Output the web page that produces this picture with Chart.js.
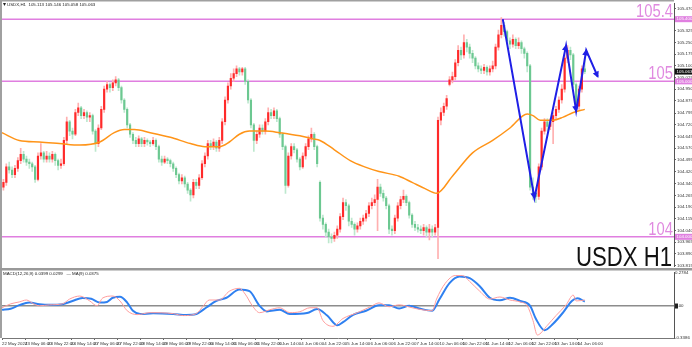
<!DOCTYPE html>
<html>
<head>
<meta charset="utf-8">
<script src="https://cdn.jsdelivr.net/npm/chart.js@4.4.1/dist/chart.umd.min.js"></script>
<style>
  html, body { margin: 0; padding: 0; background: #fff; overflow: hidden; }
  #wrap { position: relative; width: 692px; height: 347px; }
  canvas { position: absolute; left: 0; }
  #main { top: 0; }
  #macd { top: 269px; }
</style>
</head>
<body>
<div id="wrap">
  <canvas id="main" width="692" height="270"></canvas>
  <canvas id="macd" width="692" height="78"></canvas>
</div>
<script>
// * USDX H1 candles, one entry per 2 hours
const opens = [
  104.32,104.35,104.45,104.43,104.40,104.44,104.49,104.53,104.50,104.48,
  104.47,104.45,104.37,104.52,104.54,104.50,104.52,104.50,104.53,104.49,
  104.46,104.47,104.62,104.74,104.68,104.66,104.80,104.83,104.78,104.80,
  104.77,104.78,104.68,104.60,104.70,104.82,104.95,104.98,104.96,104.99,
  105.01,104.96,104.88,104.82,104.72,104.66,104.62,104.60,104.63,104.60,
  104.62,104.61,104.60,104.62,104.58,104.50,104.48,104.50,104.49,104.47,
  104.44,104.40,104.36,104.38,104.34,104.30,104.27,104.35,104.33,104.38,
  104.47,104.52,104.60,104.58,104.61,104.57,104.62,104.74,104.88,104.97,
  105.02,105.05,105.08,105.06,105.08,105.00,104.88,104.72,104.62,104.66,
  104.70,104.68,104.74,104.80,104.78,104.81,104.76,104.66,104.58,104.33,
  104.52,104.58,104.56,104.50,104.45,104.52,104.58,104.63,104.66,104.58,
  104.35,104.12,104.08,104.03,104.00,103.99,104.01,104.05,104.13,104.22,
  104.20,104.10,104.08,104.05,104.07,104.10,104.12,104.15,104.20,104.22,
  104.24,104.32,104.28,104.25,104.20,104.05,104.04,104.12,104.20,104.24,
  104.26,104.22,104.14,104.08,104.06,104.05,104.04,104.06,104.03,104.05,
  104.03,104.06,104.75,104.80,104.84,104.98,105.01,105.03,105.12,105.20,
  105.17,105.25,105.22,105.18,105.15,105.10,105.08,105.07,105.09,105.06,
  105.08,105.10,105.22,105.30,105.36,105.32,105.26,105.24,105.27,105.23,
  105.25,105.21,105.18,105.10,104.32,104.28,104.26,104.45,104.68,104.74,
  104.71,104.74,104.78,104.82,104.88,104.95,105.15,105.20,105.17,104.98,
  104.84,104.95,105.08
];
const highs = [
  104.37,104.47,104.48,104.45,104.46,104.51,104.57,104.55,104.52,104.50,
  104.48,104.46,104.54,104.60,104.55,104.55,104.54,104.55,104.54,104.50,
  104.50,104.64,104.77,104.75,104.70,104.82,104.86,104.84,104.82,104.81,
  104.80,104.79,104.69,104.72,104.84,104.97,105.00,104.99,105.01,105.03,
  105.02,104.97,104.89,104.83,104.73,104.67,104.64,104.65,104.64,104.64,
  104.63,104.62,104.64,104.63,104.59,104.52,104.52,104.51,104.50,104.48,
  104.45,104.41,104.40,104.39,104.35,104.31,104.37,104.37,104.40,104.49,
  104.54,104.62,104.62,104.63,104.62,104.64,104.76,104.90,104.99,105.05,
  105.08,105.10,105.09,105.09,105.09,105.01,104.89,104.73,104.68,104.72,
  104.72,104.76,104.83,104.82,104.83,104.82,104.77,104.67,104.59,104.54,
  104.60,104.60,104.57,104.51,104.54,104.60,104.65,104.70,104.67,104.59,
  104.36,104.14,104.09,104.05,104.02,104.03,104.07,104.15,104.25,104.24,
  104.21,104.12,104.09,104.09,104.12,104.14,104.17,104.22,104.25,104.27,
  104.37,104.34,104.30,104.26,104.21,104.07,104.14,104.22,104.26,104.30,
  104.27,104.23,104.15,104.10,104.08,104.07,104.08,104.07,104.08,104.07,
  104.08,104.77,104.83,104.86,104.91,105.03,105.06,105.14,105.23,105.22,
  105.30,105.27,105.24,105.20,105.16,105.12,105.10,105.11,105.10,105.10,
  105.13,105.24,105.33,105.41,105.38,105.33,105.28,105.30,105.28,105.28,
  105.26,105.22,105.19,105.11,104.38,104.30,104.47,104.70,104.76,104.76,
  104.76,104.80,104.84,104.90,104.98,105.17,105.23,105.22,105.18,104.99,
  104.97,105.10,105.15
];
const lows = [
  104.30,104.33,104.41,104.38,104.38,104.42,104.47,104.48,104.46,104.44,
  104.42,104.35,104.36,104.50,104.48,104.48,104.48,104.48,104.46,104.43,
  104.44,104.46,104.60,104.65,104.63,104.65,104.78,104.76,104.76,104.74,
  104.74,104.66,104.55,104.58,104.69,104.80,104.93,104.93,104.94,104.97,
  104.94,104.86,104.80,104.70,104.64,104.60,104.58,104.58,104.58,104.58,
  104.59,104.58,104.59,104.56,104.48,104.46,104.47,104.47,104.45,104.42,
  104.38,104.34,104.34,104.32,104.28,104.23,104.25,104.31,104.31,104.37,
  104.45,104.50,104.56,104.56,104.55,104.55,104.60,104.72,104.86,104.95,
  105.00,105.03,105.04,105.04,104.98,104.86,104.70,104.55,104.60,104.64,
  104.66,104.66,104.72,104.76,104.76,104.74,104.64,104.56,104.28,104.32,
  104.50,104.54,104.48,104.43,104.44,104.50,104.56,104.61,104.56,104.45,
  104.10,104.05,104.00,103.96,103.96,103.97,103.99,104.03,104.11,104.17,
  104.07,104.06,104.01,104.03,104.05,104.08,104.10,104.13,104.18,104.20,
  104.04,104.26,104.23,104.18,104.02,104.01,104.02,104.10,104.18,104.22,
  104.20,104.12,104.06,104.04,104.03,104.02,104.01,104.00,103.98,104.00,
  104.01,103.86,104.72,104.78,104.82,104.97,104.99,105.01,105.10,105.14,
  105.15,105.19,105.15,105.12,105.08,105.06,105.05,105.05,105.04,105.04,
  105.06,105.08,105.20,105.28,105.29,105.24,105.21,105.22,105.21,105.21,
  105.18,105.15,105.06,104.30,104.24,104.22,104.24,104.43,104.66,104.68,
  104.69,104.60,104.76,104.80,104.86,104.93,105.12,105.14,104.96,104.81,
  104.82,104.93,105.05
];
const closes = [
  104.35,104.45,104.43,104.40,104.44,104.49,104.53,104.50,104.48,104.47,
  104.45,104.37,104.52,104.54,104.50,104.52,104.50,104.53,104.49,104.46,
  104.47,104.62,104.74,104.68,104.66,104.80,104.83,104.78,104.80,104.77,
  104.78,104.68,104.60,104.70,104.82,104.95,104.98,104.96,104.99,105.01,
  104.96,104.88,104.82,104.72,104.66,104.62,104.60,104.63,104.60,104.62,
  104.61,104.60,104.62,104.58,104.50,104.48,104.50,104.49,104.47,104.44,
  104.40,104.36,104.38,104.34,104.30,104.27,104.35,104.33,104.38,104.47,
  104.52,104.60,104.58,104.61,104.57,104.62,104.74,104.88,104.97,105.02,
  105.05,105.08,105.06,105.08,105.00,104.88,104.72,104.62,104.66,104.70,
  104.68,104.74,104.80,104.78,104.81,104.76,104.66,104.58,104.33,104.52,
  104.58,104.56,104.50,104.45,104.52,104.58,104.63,104.66,104.58,104.47,
  104.12,104.08,104.03,104.00,103.99,104.01,104.05,104.13,104.22,104.20,
  104.10,104.08,104.05,104.07,104.10,104.12,104.15,104.20,104.22,104.24,
  104.32,104.28,104.25,104.20,104.05,104.04,104.12,104.20,104.24,104.26,
  104.22,104.14,104.08,104.06,104.05,104.04,104.06,104.03,104.05,104.03,
  104.06,104.75,104.80,104.84,104.89,105.01,105.03,105.12,105.20,105.17,
  105.25,105.22,105.18,105.15,105.10,105.08,105.07,105.09,105.06,105.08,
  105.10,105.22,105.30,105.36,105.32,105.26,105.24,105.27,105.23,105.25,
  105.21,105.18,105.10,104.32,104.28,104.26,104.45,104.68,104.74,104.71,
  104.74,104.78,104.82,104.88,104.95,105.15,105.20,105.17,104.98,104.84,
  104.95,105.08,105.063
];

// * Moving average (orange), hours from the left edge
const maHours = [0,12,26,40,54,68,78,85,92,103,117,131,141,151,158,165,172,183,193,207,216,221,231,242,252,262,276,285,294,302,313,327,341,353,365,369,374,383,390,397,405];
const maValues = [104.67,104.62,104.61,104.60,104.59,104.61,104.67,104.69,104.69,104.67,104.64,104.60,104.58,104.58,104.61,104.66,104.68,104.68,104.67,104.65,104.63,104.62,104.56,104.49,104.45,104.42,104.39,104.35,104.31,104.28,104.39,104.54,104.62,104.70,104.79,104.78,104.75,104.75,104.77,104.80,104.82];

// * Hand drawn blue zigzag
const zzHours = [348,370,392,399,406,414];
const zzPrices = [105.40,104.25,105.23,104.81,105.20,105.03];

// * Horizontal levels
const levels = [105.4, 105, 104];
const levelLabels = ["105.4", "105", "104"];

// * Price scale labels
const yTicks = [105.470,105.395,105.325,105.250,105.175,105.100,105.025,104.950,104.875,104.795,104.720,104.645,104.570,104.495,104.420,104.340,104.265,104.190,104.115,104.040,103.965,103.890,103.815];
const infoValues = ["105.113","105.146","105.058","105.063"];

// * MACD panel
const macdHours = [0,6,12,19,26,33,42,49,56,62,68,73,77,82,87,91,96,105,119,128,135,142,149,156,165,172,179,184,193,200,212,219,226,233,237,244,253,262,269,276,283,290,299,304,311,318,325,332,339,346,353,360,367,371,377,383,390,396,400,405];
const macdValues = [-0.035,-0.025,0.008,0.032,0.017,0.011,0.017,0.047,0.075,0.068,0.032,0.038,0.077,0.086,0.032,-0.044,-0.074,-0.068,-0.074,-0.083,-0.074,-0.014,0.047,0.077,0.154,0.138,0.002,-0.050,-0.035,-0.074,-0.065,-0.028,-0.089,-0.180,-0.150,-0.083,-0.044,0.008,0.008,-0.023,0.002,-0.023,-0.044,0.063,0.214,0.275,0.259,0.184,0.077,0.054,0.077,0.047,0.002,-0.119,-0.225,-0.165,-0.059,0.047,0.072,0.041];
const sigHours = [0,6,12,17,22,26,33,42,47,54,61,66,70,77,82,87,94,103,119,126,135,140,144,151,158,165,169,174,179,186,193,200,207,214,219,223,230,237,247,256,262,269,276,285,292,299,302,308,315,320,325,332,339,346,353,360,365,369,372,379,385,392,397,399,405];
const sigValues = [-0.016,0.020,0.038,0.056,0.020,0.002,0.011,0.020,0.065,0.093,0.047,0.002,0.075,0.093,0.047,-0.044,-0.080,-0.062,-0.071,-0.089,-0.071,0.002,0.056,0.056,0.138,0.165,0.111,0.002,-0.062,-0.035,-0.016,-0.062,-0.053,-0.016,-0.016,-0.135,-0.189,-0.116,-0.062,-0.007,0.029,-0.007,0.011,-0.016,-0.035,-0.044,0.065,0.211,0.284,0.284,0.229,0.138,0.065,0.084,0.056,0.038,0.002,-0.135,-0.270,-0.180,-0.089,0.011,0.102,0.047,0.056];
const macdTickLabels = ["0.2784", "0.00", "-0.3386"];

// * Time axis labels, one every 16 hours
const xLabels = ["22 May 2024","23 May 06:00","23 May 22:00","24 May 14:00","27 May 06:00","27 May 22:00","28 May 14:00","29 May 06:00","29 May 22:00","30 May 14:00","31 May 06:00","31 May 22:00","3 Jun 14:00","4 Jun 06:00","4 Jun 22:00","5 Jun 14:00","6 Jun 06:00","6 Jun 22:00","7 Jun 14:00","10 Jun 06:00","10 Jun 22:00","11 Jun 14:00","12 Jun 06:00","12 Jun 22:00","13 Jun 14:00","14 Jun 06:00"];

const xMax = 467;
const candleHours = closes.map((c, i) => 2 * i + 1);
const isUp = (i) => closes[i] >= opens[i];

const TINY = 4.4;
const SMALL = TINY + 'px "Liberation Sans", Arial, sans-serif';
const LEVEL_COLOR = "#e07fe0";

function squeezedText(ctx, text, x, y, size, color) {
    ctx.save();
    ctx.font = size + 'px "Liberation Sans", Arial, sans-serif';
    ctx.fillStyle = color;
    ctx.textAlign = "right";
    ctx.textBaseline = "alphabetic";
    ctx.translate(x, y);
    ctx.scale(0.82, 1);
    ctx.fillText(text, 0, 0);
    ctx.restore();
}

function priceBox(ctx, text, left, yPix, bg) {
    ctx.fillStyle = bg;
    ctx.fillRect(left + 1, yPix - 3, 17, 6);
    ctx.fillStyle = "#fff";
    ctx.font = SMALL;
    ctx.textAlign = "left";
    ctx.textBaseline = "middle";
    ctx.fillText(text, left + 2.5, yPix);
}

const mainOverlay = {
    id: "mainOverlay",
    afterDatasetsDraw(chart) {
        const { ctx, scales: { x, y } } = chart;
        // * Arrow heads on the zigzag
        const pts = zzHours.map((h, i) => [x.getPixelForValue(h), y.getPixelForValue(zzPrices[i])]);
        ctx.save();
        ctx.fillStyle = "#1f1fe6";
        for (let i = 1; i < pts.length; i++) {
            const [x0, y0] = pts[i - 1];
            const [x1, y1] = pts[i];
            ctx.save();
            ctx.translate(x1, y1);
            ctx.rotate(Math.atan2(y1 - y0, x1 - x0));
            ctx.beginPath();
            ctx.moveTo(1.5, 0);
            ctx.lineTo(-5, -3.2);
            ctx.lineTo(-5, 3.2);
            ctx.closePath();
            ctx.fill();
            ctx.restore();
        }
        ctx.restore();
    },
    afterDraw(chart) {
        const { ctx, chartArea: a, scales: { y } } = chart;
        ctx.save();
        // * Level captions
        levels.forEach((v, i) => {
            squeezedText(ctx, levelLabels[i], a.right - 1, y.getPixelForValue(v) - 2, 18, "#e08ae0");
        });
        squeezedText(ctx, "USDX H1", a.right - 2, 266, 27, "#111");

        // * Info line top left
        ctx.fillStyle = "#222";
        ctx.beginPath();
        ctx.moveTo(3, 3); ctx.lineTo(6, 3); ctx.lineTo(4.5, 6); ctx.closePath();
        ctx.fill();
        ctx.font = SMALL;
        ctx.textAlign = "left";
        ctx.textBaseline = "middle";
        ctx.fillText("USDX,H1  " + infoValues.join(" "), 7, 4.5);

        // * Boxes on the price scale
        levels.forEach((v) => priceBox(ctx, v.toFixed(3), a.right, y.getPixelForValue(v), LEVEL_COLOR));
        priceBox(ctx, infoValues[3], a.right, y.getPixelForValue(closes[closes.length - 1]), "#111");

        // * Panel frame
        ctx.strokeStyle = "#a0a0a0";
        ctx.lineWidth = 2;
        ctx.beginPath();
        ctx.moveTo(1, 270); ctx.lineTo(1, 0.5); ctx.lineTo(a.right, 0.5);
        ctx.stroke();
        ctx.strokeStyle = "#999";
        ctx.beginPath();
        ctx.moveTo(0, 269); ctx.lineTo(692, 269);
        ctx.stroke();
        ctx.restore();
    },
};

const macdOverlay = {
    id: "macdOverlay",
    afterDraw(chart) {
        const { ctx, chartArea: a } = chart;
        ctx.save();
        ctx.strokeStyle = "#a0a0a0";
        ctx.lineWidth = 2;
        ctx.beginPath();
        ctx.moveTo(1, 0); ctx.lineTo(1, a.bottom);
        ctx.stroke();
        ctx.strokeStyle = "#999";
        ctx.beginPath();
        ctx.moveTo(0, 0.5); ctx.lineTo(692, 0.5);
        ctx.stroke();
        ctx.fillStyle = "#222";
        ctx.font = SMALL;
        ctx.textAlign = "left";
        ctx.textBaseline = "middle";
        ctx.fillText("MACD(12,26,9) 0.0399 0.0299   \u2014 MA(9) 0.0375", 3, 5);
        ctx.fillRect(a.right + 1, chart.scales.y.getPixelForValue(0) - 2.5, 3, 5);
        ctx.restore();
    },
};

const mainConfig = {
    type: "bar",
    data: {
        datasets: [
            {
                type: "line",
                data: zzHours.map((h, i) => ({ x: h, y: zzPrices[i] })),
                borderColor: "#1f1fe6",
                borderWidth: 2,
                pointRadius: 0,
                order: 0,
            },
            {
                type: "line",
                data: maHours.map((h, i) => ({ x: h, y: maValues[i] })),
                borderColor: "#ff9418",
                borderWidth: 1.5,
                pointRadius: 0,
                cubicInterpolationMode: "monotone",
                order: 1,
            },
            {
                data: closes.map((c, i) => ({ x: candleHours[i], y: [opens[i], c] })),
                backgroundColor: (ctx) => (isUp(ctx.dataIndex) ? "#ff2a2a" : "#6cc891"),
                barThickness: 1.5,
                minBarLength: 1,
                grouped: false,
                order: 2,
            },
            {
                data: highs.map((h, i) => ({ x: candleHours[i], y: [lows[i], h] })),
                backgroundColor: (ctx) => (isUp(ctx.dataIndex) ? "#ffb0b0" : "#bde8ce"),
                barThickness: 1,
                grouped: false,
                order: 3,
            },
            ...levels.map((v) => ({
                type: "line",
                data: [{ x: 0, y: v }, { x: xMax, y: v }],
                borderColor: LEVEL_COLOR,
                borderWidth: 1.5,
                pointRadius: 0,
                order: 4,
            })),
        ],
    },
    options: {
        responsive: false,
        animation: false,
        devicePixelRatio: 1,
        layout: { padding: { left: 2, top: 1, bottom: 2, right: 0 } },
        plugins: { legend: { display: false }, tooltip: { enabled: false } },
        scales: {
            x: { type: "linear", min: 0, max: xMax, offset: false, display: false },
            y: {
                position: "right",
                min: 103.81,
                max: 105.5,
                afterBuildTicks: (s) => { s.ticks = yTicks.map((v) => ({ value: v })); },
                afterFit: (s) => { s.width = 18; },
                ticks: {
                    font: { size: TINY, family: "Liberation Sans" },
                    color: "#333",
                    padding: 1,
                    callback: (v) => v.toFixed(3),
                },
                grid: { drawOnChartArea: false, tickLength: 2, color: "#666" },
                border: { color: "#555" },
            },
        },
    },
    plugins: [mainOverlay],
};

const macdConfig = {
    type: "line",
    data: {
        datasets: [
            {
                data: sigHours.map((h, i) => ({ x: h, y: sigValues[i] })),
                borderColor: "#ff9c9c",
                borderWidth: 1,
                pointRadius: 0,
                cubicInterpolationMode: "monotone",
            },
            {
                data: macdHours.map((h, i) => ({ x: h, y: macdValues[i] })),
                borderColor: "#2f80f0",
                borderWidth: 2,
                pointRadius: 0,
                cubicInterpolationMode: "monotone",
            },
        ],
    },
    options: {
        responsive: false,
        animation: false,
        devicePixelRatio: 1,
        layout: { padding: { left: 2, top: 2, bottom: 0, right: 0 } },
        plugins: { legend: { display: false }, tooltip: { enabled: false } },
        scales: {
            x: {
                type: "linear",
                min: 0,
                max: xMax,
                afterBuildTicks: (s) => { s.ticks = xLabels.map((t, i) => ({ value: i * 16 })); },
                afterFit: (s) => { s.height = 9; },
                ticks: {
                    autoSkip: false,
                    maxRotation: 0,
                    align: "start",
                    font: { size: TINY, family: "Liberation Sans" },
                    color: "#333",
                    padding: 1,
                    callback: (v, i) => xLabels[i],
                },
                grid: { drawOnChartArea: false, tickLength: 2, color: "#666" },
                border: { color: "#777" },
            },
            y: {
                position: "right",
                min: -0.298,
                max: 0.311,
                afterBuildTicks: (s) => { s.ticks = [{ value: 0.311 }, { value: 0 }, { value: -0.298 }]; },
                afterFit: (s) => { s.width = 18; },
                ticks: {
                    font: { size: TINY, family: "Liberation Sans" },
                    color: "#333",
                    padding: 1,
                    callback: (v, i) => macdTickLabels[i],
                },
                grid: {
                    color: (c) => (c.tick && c.tick.value === 0 ? "#8c8c8c" : "rgba(0,0,0,0)"),
                    lineWidth: 1.5,
                    drawTicks: false,
                },
                border: { color: "#555" },
            },
        },
    },
    plugins: [macdOverlay],
};

new Chart(document.getElementById("main").getContext("2d"), mainConfig);
new Chart(document.getElementById("macd").getContext("2d"), macdConfig);
</script>
</body>
</html>
